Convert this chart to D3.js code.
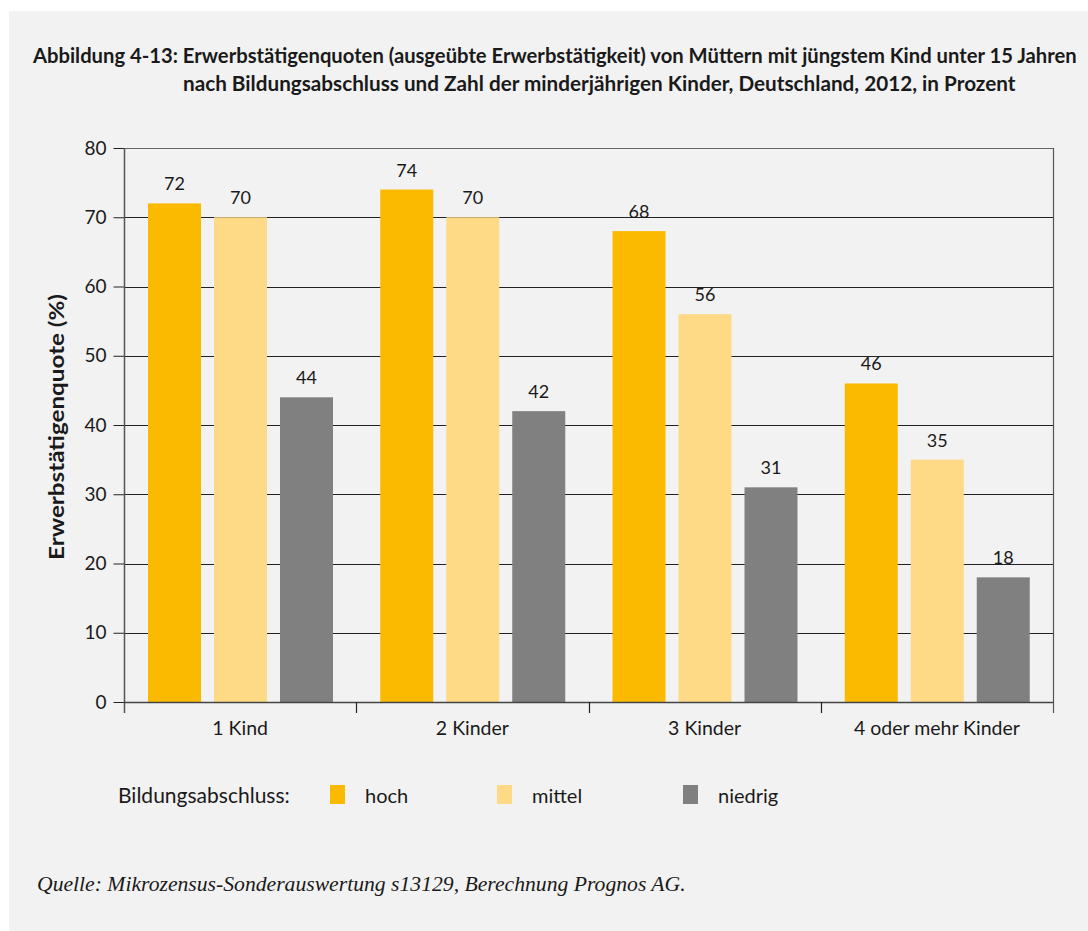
<!DOCTYPE html>
<html>
<head>
<meta charset="utf-8">
<script src="https://cdn.jsdelivr.net/npm/d3@7"></script>
<style>
  html, body { margin: 0; padding: 0; background: #ffffff; }
  svg { display: block; }
</style>
</head>
<body>
<svg id="chart" width="1088" height="931"></svg>
<script>
// Employment rates of mothers by education level and number of children
const categories = ["1 Kind", "2 Kinder", "3 Kinder", "4 oder mehr Kinder"];
const seriesNames = ["hoch", "mittel", "niedrig"];
const hoch    = [72, 74, 68, 46];
const mittel  = [70, 70, 56, 35];
const niedrig = [44, 42, 31, 18];
const yTicks = [0, 10, 20, 30, 40, 50, 60, 70, 80];
const colors = ["#fbba00", "#fed986", "#808080"];

const titleLine1 = "Abbildung 4-13: Erwerbstätigenquoten (ausgeübte Erwerbstätigkeit) von Müttern mit jüngstem Kind unter 15 Jahren";
const titleLine2 = "nach Bildungsabschluss und Zahl der minderjährigen Kinder, Deutschland, 2012, in Prozent";
const yTitle = "Erwerbstätigenquote (%)";
const legendTitle = "Bildungsabschluss:";
const source = "Quelle: Mikrozensus-Sonderauswertung s13129, Berechnung Prognos AG.";

const values = [hoch, mittel, niedrig];
const rows = categories.map((c, i) => ({
  cat: c,
  vals: seriesNames.map((s, j) => ({ key: s, value: values[j][i] }))
}));

const sans = "Lato, 'Noto Sans', sans-serif";
const ink = "#1a1a1a";
const svg = d3.select("#chart");

// scale a text element's font size so it spans the given width
function fitWidth(sel, width) {
  const fsz = parseFloat(sel.attr("font-size"));
  const w = sel.node().getComputedTextLength();
  sel.attr("font-size", fsz * width / w);
  return sel;
}

// panel background
svg.append("rect").attr("x", 9).attr("y", 11).attr("width", 1079).attr("height", 920).attr("fill", "#f2f2f2");

// title, second line indented to follow the figure number
fitWidth(svg.append("text").attr("x", 33).attr("y", 63)
  .attr("font-family", sans).attr("font-weight", "bold").attr("fill", ink)
  .attr("font-size", 17).text(titleLine1), 1044);
fitWidth(svg.append("text").attr("x", 183).attr("y", 91)
  .attr("font-family", sans).attr("font-weight", "bold").attr("fill", ink)
  .attr("font-size", 17).text(titleLine2), 833);

// scales
const x0 = d3.scaleBand().domain(categories).range([124, 1053]);
const x1 = d3.scaleBand().domain(seriesNames).range([24, 209]).paddingInner(13 / 66);
const y = d3.scaleLinear().domain([0, 80]).range([702, 148]);

// gridlines
svg.append("g").selectAll("line").data(yTicks.filter(d => d > 0 && d < 80)).join("line")
  .attr("x1", 124).attr("x2", 1053)
  .attr("y1", d => Math.round(y(d)) + 0.5).attr("y2", d => Math.round(y(d)) + 0.5)
  .attr("stroke", "#222").attr("stroke-width", 1);

// frame (top, right)
svg.append("line").attr("x1", 124).attr("x2", 1053.5).attr("y1", 148.5).attr("y2", 148.5)
  .attr("stroke", "#666").attr("stroke-width", 1.2);
svg.append("line").attr("x1", 1053.5).attr("x2", 1053.5).attr("y1", 148).attr("y2", 713)
  .attr("stroke", "#555").attr("stroke-width", 1.2);

// bars
const groups = svg.append("g").selectAll("g").data(rows).join("g")
  .attr("transform", d => `translate(${x0(d.cat)},0)`);
groups.selectAll("rect").data(d => d.vals).join("rect")
  .attr("x", d => x1(d.key))
  .attr("width", x1.bandwidth())
  .attr("y", d => y(d.value))
  .attr("height", d => y(0) - y(d.value))
  .attr("fill", (d, i) => colors[i]);

// value labels
groups.selectAll("text").data(d => d.vals).join("text")
  .attr("x", d => x1(d.key) + x1.bandwidth() / 2)
  .attr("y", d => y(d.value) - 13)
  .attr("text-anchor", "middle")
  .attr("font-family", sans).attr("font-size", 18).attr("fill", ink)
  .text(d => d.value);

// y axis
const yAxis = svg.append("g").attr("transform", "translate(124.5,0)")
  .call(d3.axisLeft(y).tickValues(yTicks).tickSize(11).tickPadding(7));
yAxis.select(".domain").remove();
yAxis.selectAll(".tick line").attr("stroke", "#222");
yAxis.selectAll(".tick text").attr("font-family", sans).attr("font-size", 19).attr("fill", ink);
svg.append("line").attr("x1", 124.5).attr("x2", 124.5).attr("y1", 148).attr("y2", 713)
  .attr("stroke", "#555").attr("stroke-width", 1.5);

// x axis
svg.append("line").attr("x1", 124).attr("x2", 1053).attr("y1", 702.5).attr("y2", 702.5)
  .attr("stroke", "#444").attr("stroke-width", 1.5);
const xAxis = svg.append("g").attr("transform", "translate(0,702.5)")
  .call(d3.axisBottom(x0).tickSize(0).tickPadding(19));
xAxis.select(".domain").remove();
xAxis.selectAll(".tick text").attr("font-family", sans).attr("font-size", 19.5).attr("fill", ink);
svg.append("g").selectAll("line").data(categories.slice(1)).join("line")
  .attr("x1", d => Math.round(x0(d)) + 0.5).attr("x2", d => Math.round(x0(d)) + 0.5)
  .attr("y1", 702).attr("y2", 713).attr("stroke", "#222").attr("stroke-width", 1.2);

// y axis title
svg.append("text")
  .attr("transform", "translate(64,427) rotate(-90)")
  .attr("text-anchor", "middle")
  .attr("font-family", sans).attr("font-weight", "bold").attr("font-size", 20).attr("fill", ink)
  .attr("textLength", 266).attr("lengthAdjust", "spacingAndGlyphs")
  .text(yTitle);

// legend
fitWidth(svg.append("text").attr("x", 118).attr("y", 803)
  .attr("font-family", sans).attr("font-size", 19).attr("fill", ink).text(legendTitle), 172);
const legendX = [330, 497, 683];
const leg = svg.append("g").selectAll("g").data(seriesNames).join("g")
  .attr("transform", (d, i) => `translate(${legendX[i]},785)`);
leg.append("rect").attr("width", 15).attr("height", 19).attr("fill", (d, i) => colors[i]);
leg.append("text").attr("x", 35).attr("y", 18)
  .attr("font-family", sans).attr("font-size", 20).attr("fill", ink).text(d => d);

// source
fitWidth(svg.append("text").attr("x", 37).attr("y", 891)
  .attr("font-family", "'Liberation Serif', 'DejaVu Serif', serif").attr("font-style", "italic")
  .attr("font-size", 17).attr("fill", ink).text(source), 649);
</script>
</body>
</html>
